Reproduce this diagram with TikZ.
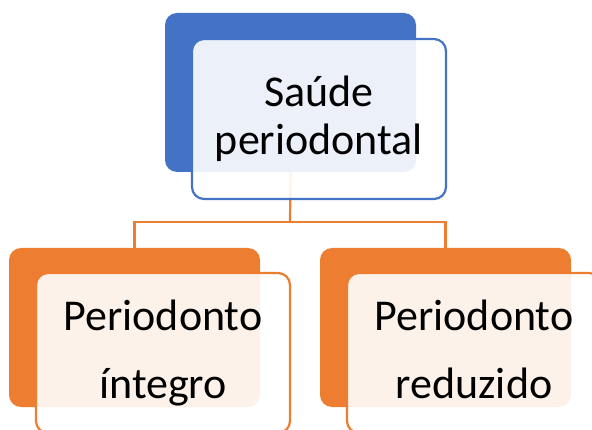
\documentclass[tikz,border=0pt]{standalone}
\usepackage{fontspec}
\setmainfont{Carlito}
\definecolor{blueC}{HTML}{4472C4}
\definecolor{orangeC}{HTML}{ED7D31}
\begin{document}
\begin{tikzpicture}[x=1pt,y=-1pt,
  back/.style={rectangle, rounded corners=12pt, minimum width=251pt, minimum height=159pt,
    inner sep=0pt, outer sep=0pt, anchor=north west},
  front/.style={rectangle, rounded corners=12pt, minimum width=254pt, minimum height=160pt,
    line width=2.2pt, fill=white, fill opacity=0.9, text opacity=1, draw opacity=1,
    anchor=north west, align=center, inner sep=0pt, outer sep=0pt,
    font=\fontsize{44}{48}\selectfont},
  conn/.style={draw=orangeC, line width=2.2pt}]
\useasboundingbox (0,0) rectangle (592,430);
\clip (0,0) rectangle (592,430);
% back rectangles
\node[back, fill=blueC] (topback) at (165,13) {};
\node[back, fill=orangeC] (leftback) at (9,248) {};
\node[back, fill=orangeC] (rightback) at (320,248) {};
% connectors
\coordinate (mid) at (290,222);
\draw[conn] (topback.south) -- (mid);
\draw[conn] (mid) -| (leftback.north);
\draw[conn] (mid) -| (rightback.north);
% front rectangles
\node[front, draw=blueC] (topfront) at (192,39) {Saúde\\periodontal};
\node[front, draw=orangeC] (leftfront) at (36,273) {Periodonto\\[20pt]íntegro};
\node[front, draw=orangeC] (rightfront) at (347,273) {Periodonto\\[20pt]reduzido\vphantom{g}};
\end{tikzpicture}
\end{document}
